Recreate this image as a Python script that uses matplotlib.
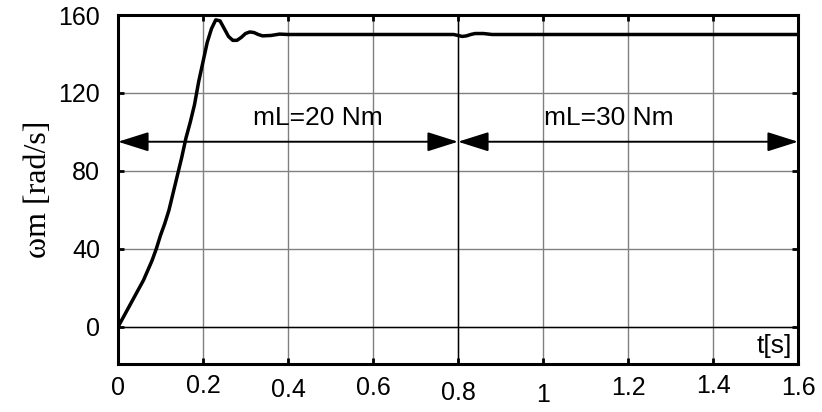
import matplotlib.pyplot as plt
from matplotlib.patches import FancyArrowPatch

# velocidade do motor (leitura do grafico)
t = [0, 0.01, 0.02, 0.03, 0.04, 0.05, 0.06, 0.07, 0.08, 0.09, 0.10, 0.11,
     0.12, 0.13, 0.14, 0.15, 0.16, 0.17, 0.18, 0.19, 0.20, 0.21, 0.22,
     0.23, 0.24, 0.25, 0.26, 0.27, 0.28, 0.29, 0.30, 0.31, 0.32, 0.33, 0.34,
     0.36, 0.38, 0.40, 0.45, 0.5, 0.6, 0.7, 0.79, 0.8, 0.81, 0.82, 0.83, 0.84,
     0.86, 0.88, 0.9, 1.0, 1.2, 1.4, 1.6]
wm = [0, 4, 8, 12, 16, 20, 24, 29, 34, 40, 47, 53,
      60, 69, 78, 87, 97, 105, 114, 126, 136, 146, 153,
      157.5, 157, 153, 149, 147, 147, 148.5, 150.5, 151.3, 151, 150, 149.3,
      149.5, 150.2, 150, 150, 150, 150, 150, 150, 149.5, 149, 149.3, 150, 150.5,
      150.5, 150, 150, 150, 150, 150, 150]

xticks = [0, 0.2, 0.4, 0.6, 0.8, 1.0, 1.2, 1.4, 1.6]
xlabels = ['0', '0.2', '0.4', '0.6', '0.8', '1', '1.2', '1.4', '1.6']
xpads = [8.6, 7.2, 10, 8.6, 12.5, 13.5, 8.6, 7.2, 8.6]
yticks = [0, 40, 80, 120, 160]

# cargas
t_step = 0.8
y_arrow = 95
loads = ['mL=20 Nm', 'mL=30 Nm']

plt.rcParams['font.family'] = ['Liberation Sans', 'DejaVu Sans']

fig = plt.figure(figsize=(8.22, 4.12), dpi=100)
ax = fig.add_axes([118/822, 1 - 364/412, 680/822, 349/412])

ax.set_xlim(0, 1.6)
ax.set_ylim(-19, 160)

ax.grid(True, color='#808080', linewidth=1)
ax.axvline(t_step, color='black', linewidth=1)
ax.axhline(0, color='black', linewidth=1)

ax.plot(t, wm, color='black', linewidth=2.5, zorder=5)

# setas
for x0, x1 in [(0, t_step), (t_step, 1.6)]:
    arr = FancyArrowPatch((x0, y_arrow), (x1, y_arrow),
                          arrowstyle='<|-|>,head_length=19,head_width=6',
                          mutation_scale=1, shrinkA=0, shrinkB=0,
                          color='black', linewidth=1.4, zorder=4)
    ax.add_patch(arr)

ax.text(0.47, 107, loads[0], fontsize=19, ha='center', va='center')
ax.text(1.155, 107, loads[1], fontsize=19, ha='center', va='center')
ax.text(1.545, -10, 't[s]', fontsize=19, ha='center', va='center')

ax.set_xticks(xticks)
ax.set_xticklabels(xlabels)
ax.set_yticks(yticks)
ax.tick_params(direction='in', length=4, width=2, labelsize=18,
               top=True, right=True)
for tk, p in zip(ax.xaxis.get_major_ticks(), xpads):
    tk.set_pad(p)
ax.tick_params(axis='y', pad=13)

for s in ax.spines.values():
    s.set_linewidth(2.2)

ax.set_ylabel('ωm [rad/s]', fontsize=23, family=['Liberation Serif', 'DejaVu Serif'],
              labelpad=4)

fig.savefig('out.png', dpi=100)
